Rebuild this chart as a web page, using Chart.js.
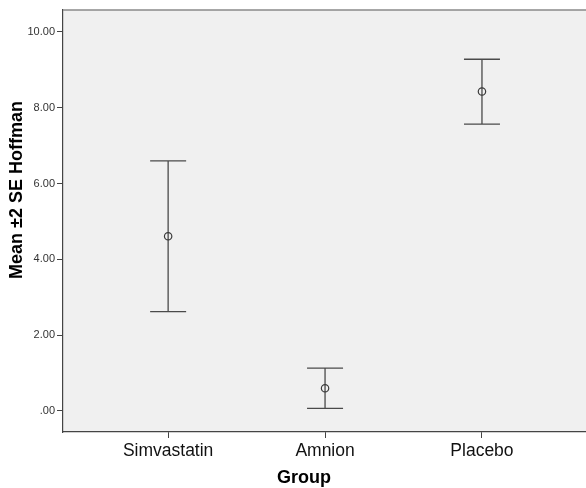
<!DOCTYPE html>
<html>
<head>
<meta charset="utf-8">
<script src="https://cdn.jsdelivr.net/npm/chart.js@4"></script>
<style>
    html, body { margin: 0; padding: 0; background: #fff; }
    #wrap { width: 586px; height: 488px; }
</style>
</head>
<body>
<div id="wrap"><canvas id="errChart"></canvas></div>
<script>
const groups = ['Simvastatin', 'Amnion', 'Placebo'];
const means = [4.61, 0.60, 8.43];
const upper = [6.60, 1.13, 9.28];
const lower = [2.62, 0.07, 7.57];
const yTickValues = [0, 2, 4, 6, 8, 10];
const yTickLabels = ['.00', '2.00', '4.00', '6.00', '8.00', '10.00'];

const FONT = "'Liberation Sans', Arial, sans-serif";

// plot background, top border and the two axis titles
const frame = {
    id: 'frame',
    beforeDraw(chart) {
        const {ctx, chartArea: a} = chart;
        ctx.save();
        ctx.fillStyle = '#f0f0f0';
        ctx.fillRect(a.left, a.top, a.right - a.left, a.bottom - a.top);
        ctx.restore();
    },
    afterDraw(chart) {
        const {ctx, chartArea: a} = chart;
        ctx.save();
        ctx.strokeStyle = '#8a8a8a';
        ctx.lineWidth = 1.5;
        ctx.beginPath();
        ctx.moveTo(a.left, a.top);
        ctx.lineTo(a.right, a.top);
        ctx.stroke();

        ctx.fillStyle = '#000';
        ctx.font = 'bold 18px ' + FONT;
        ctx.textAlign = 'center';
        ctx.textBaseline = 'middle';
        ctx.fillText('Group', 304, 478);

        ctx.translate(17, 190);
        ctx.rotate(-Math.PI / 2);
        ctx.fillText('Mean \u00b12 SE Hoffman', 0, 0);
        ctx.restore();
    }
};

// whiskers with caps, drawn under the mean markers
const errorBars = {
    id: 'errorBars',
    beforeDatasetsDraw(chart) {
        const ctx = chart.ctx;
        const xs = chart.scales.x, ys = chart.scales.y;
        const cap = 18;
        ctx.save();
        ctx.strokeStyle = '#4a4a4a';
        ctx.lineWidth = 1.3;
        groups.forEach((g, i) => {
            const px = xs.getPixelForValue(i);
            const top = ys.getPixelForValue(upper[i]);
            const bot = ys.getPixelForValue(lower[i]);
            ctx.beginPath();
            ctx.moveTo(px, top);
            ctx.lineTo(px, bot);
            ctx.moveTo(px - cap, top);
            ctx.lineTo(px + cap, top);
            ctx.moveTo(px - cap, bot);
            ctx.lineTo(px + cap, bot);
            ctx.stroke();
        });
        ctx.restore();
    }
};

const ctx = document.getElementById('errChart').getContext('2d');
new Chart(ctx, {
    type: 'scatter',
    data: {
        datasets: [{
            data: groups.map((g, i) => ({x: i, y: means[i]})),
            pointRadius: 3.7,
            pointStyle: 'circle',
            backgroundColor: 'rgba(0,0,0,0)',
            borderColor: '#3a3a3a',
            borderWidth: 1.2,
            showLine: false
        }]
    },
    options: {
        responsive: true,
        maintainAspectRatio: false,
        animation: false,
        layout: { autoPadding: false, padding: { top: 10, right: 0, left: 0, bottom: 0 } },
        plugins: {
            legend: { display: false },
            tooltip: { enabled: false }
        },
        scales: {
            x: {
                type: 'linear',
                min: -0.67,
                max: 2.663,
                afterBuildTicks: scale => {
                    scale.ticks = groups.map((g, i) => ({value: i}));
                },
                afterFit: scale => {
                    scale.height = 56;
                    scale.paddingLeft = 0;
                    scale.paddingRight = 0;
                },
                ticks: {
                    autoSkip: false,
                    maxRotation: 0,
                    padding: 3,
                    color: '#111',
                    font: { family: FONT, size: 17.5 },
                    callback: v => groups[v]
                },
                grid: {
                    drawOnChartArea: false,
                    drawTicks: true,
                    tickLength: 6,
                    tickColor: '#444'
                },
                border: { color: '#444', width: 1.2 }
            },
            y: {
                type: 'linear',
                min: -0.555,
                max: 10.58,
                afterBuildTicks: scale => {
                    scale.ticks = yTickValues.map(v => ({value: v}));
                },
                afterFit: scale => {
                    scale.width = 63;
                    scale.paddingTop = 0;
                    scale.paddingBottom = 0;
                },
                ticks: {
                    padding: 2,
                    color: '#333',
                    font: { family: FONT, size: 11 },
                    callback: v => yTickLabels[yTickValues.indexOf(v)]
                },
                grid: {
                    drawOnChartArea: false,
                    drawTicks: true,
                    tickLength: 6,
                    tickColor: '#444'
                },
                border: { color: '#444', width: 1.2 }
            }
        }
    },
    plugins: [frame, errorBars]
});
</script>
</body>
</html>
